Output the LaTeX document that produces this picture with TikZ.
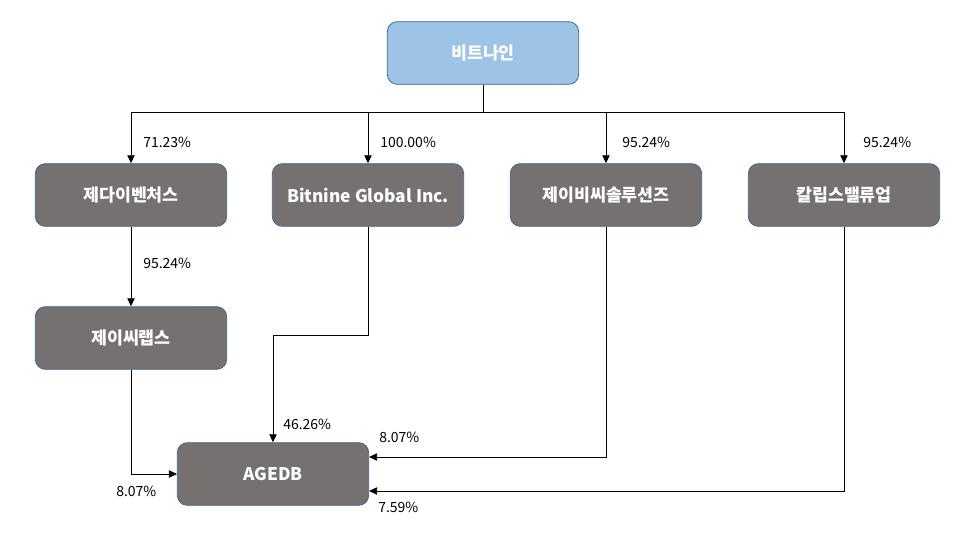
\documentclass[tikz,border=0pt]{standalone}
\usepackage{fontspec}
\setmainfont{Noto Sans CJK KR}
\usetikzlibrary{positioning, arrows.meta}
\definecolor{boxblue}{RGB}{157,195,230}
\definecolor{boxgray}{RGB}{118,113,113}
\definecolor{boxline}{RGB}{65,100,140}
\begin{document}
\begin{tikzpicture}[x=0.75pt,y=0.75pt,yscale=-1,xscale=1,
  company/.style={draw=boxline, line width=0.6pt, rounded corners=7.5pt, minimum width=143.5pt, minimum height=47pt, text=white, font=\fontsize{13}{15}\selectfont\bfseries},
  parent/.style={company, fill=boxblue},
  sub/.style={company, fill=boxgray},
  link/.style={line width=0.6pt, -{Triangle[length=6pt,width=5.5pt]}},
  share/.style={font=\fontsize{10.5}{12}\selectfont, inner sep=0.75pt}]
\useasboundingbox (0,0) rectangle (956,542);

% Boxes
\node [parent] (bitnine) at (483,53) {비트나인};
\node [sub] (jedai) at (131,195) {제다이벤처스};
\node [sub] (global) at (368,195) {Bitnine Global Inc.};
\node [sub] (jbc) at (606,195) {제이비씨솔루션즈};
\node [sub] (calips) at (844,195) {칼립스밸류업};
\node [sub] (jclabs) at (131,338) {제이씨랩스};
\node [sub] (agedb) at (273,474) {AGEDB};

% Bus from the parent
\coordinate (bus) at (483,112);
\draw [line width=0.6pt] (bitnine.south) -- (bus);
\draw [line width=0.6pt] (jedai.north |- bus) -- (calips.north |- bus);
\draw [link] (jedai.north |- bus) -- (jedai.north);
\draw [link] (global.north |- bus) -- (global.north);
\draw [link] (jbc.north |- bus) -- (jbc.north);
\draw [link] (calips.north |- bus) -- (calips.north);

% Lines into AGEDB
\draw [link] (jedai.south) -- (jclabs.north);
\draw [link] (global.south) -- (368,335) -- (273,335) -- (agedb.north);
\draw [link] (jclabs.south) |- (agedb.west);
\draw [link] (jbc.south) |- (agedb.east |- 0,457);
\draw [link] (calips.south) |- (agedb.east |- 0,491);

% Text Node
\node [share, anchor=north west] at (142,136) {71.23\%};
\node [share, anchor=north west] at (379,136) {100.00\%};
\node [share, anchor=north west] at (621,136) {95.24\%};
\node [share, anchor=north west] at (862,136) {95.24\%};
\node [share, anchor=north west] at (142,257) {95.24\%};
\node [share, anchor=north west] at (282,418) {46.26\%};
\node [share, anchor=north west] at (378,431) {8.07\%};
\node [share, anchor=north west] at (115,485) {8.07\%};
\node [share, anchor=north west] at (377,501) {7.59\%};

\end{tikzpicture}
\end{document}
